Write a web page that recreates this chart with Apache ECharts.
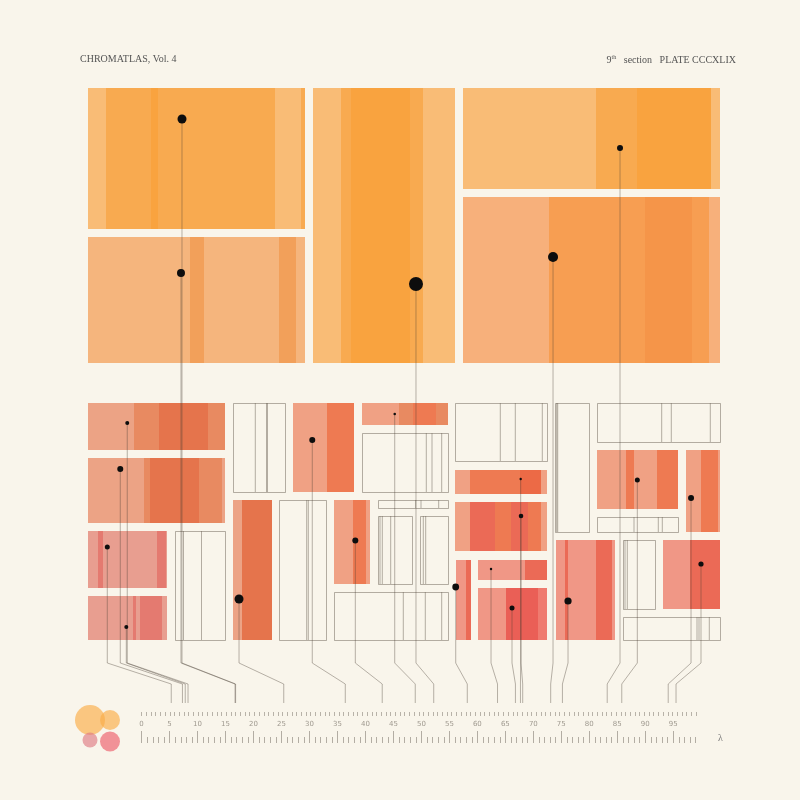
<!DOCTYPE html>
<html><head><meta charset="utf-8">
<script src="https://cdn.jsdelivr.net/npm/echarts@6/dist/echarts.min.js"></script>
<style>html,body{margin:0;padding:0;background:#f9f5eb}#c{width:800px;height:800px}</style>
</head><body><div id="c"></div><script>
// ---------- DATA ----------
// plate cells (upper group): [id, x0, y0, x1, y1, tone]
const upperCells = [
  ['T1', 88, 88, 305, 229, 'o1'],
  ['T2', 88, 237, 305, 363, 'o4'],
  ['T3', 313, 88, 455, 363, 'o1'],
  ['T4', 463, 88, 720, 189, 'o1'],
  ['T5', 463, 197, 720, 363, 'o6']
];
// lower group: filled cells
const lowerFilled = [
  ['B1', 88, 403, 225, 450, 'r1'],
  ['B2', 88, 458, 225, 523, 'r1'],
  ['B3', 88, 531, 167, 588, 'r4'],
  ['B4', 88, 596, 167, 640, 'r4'],
  ['B7', 233, 500, 272, 640, 'r1'],
  ['B9', 293, 403, 354, 492, 'r6'],
  ['B10', 362, 403, 448, 425, 'r6'],
  ['B15', 334, 500, 370, 584, 'r6'],
  ['B18', 455, 470, 547, 494, 'r6'],
  ['B19', 455, 502, 547, 551, 'r6'],
  ['B20', 456, 560, 471, 640, 'r8'],
  ['B21', 478, 560, 547, 580, 'r8'],
  ['B22', 478, 588, 547, 640, 'r8'],
  ['B25', 597, 450, 678, 509, 'r6'],
  ['B27', 686, 450, 720, 532, 'r6'],
  ['B28', 556, 540, 615, 640, 'r8'],
  ['B30', 663, 540, 720, 609, 'r8']
];
// lower group: empty (outlined) cells
const lowerEmpty = [
  ['B5', 175, 531, 225, 640, ''],
  ['B6', 233, 403, 285, 492, ''],
  ['B8', 279, 500, 326, 640, ''],
  ['B11', 362, 433, 448, 492, ''],
  ['B12', 378, 500, 448, 508, ''],
  ['B13', 378, 516, 412, 584, ''],
  ['B14', 420, 516, 448, 584, ''],
  ['B16', 334, 592, 448, 640, ''],
  ['B17', 455, 403, 547, 461, ''],
  ['B23', 555, 403, 589, 532, ''],
  ['B24', 597, 403, 720, 442, ''],
  ['B26', 597, 517, 678, 532, ''],
  ['B29', 623, 540, 655, 609, ''],
  ['B31', 623, 617, 720, 640, '']
];
// colour bands inside filled cells: [cellId, x0, x1, tone]
const bands = [
  ['T1', 106, 275, 'o2'], ['T1', 151, 158, 'o3'], ['T1', 301, 305, 'o2'],
  ['T2', 190, 204, 'o5'], ['T2', 279, 296, 'o5'],
  ['T3', 341, 423, 'o2'], ['T3', 351, 410, 'o3'],
  ['T4', 596, 711, 'o2'], ['T4', 637, 711, 'o3'],
  ['T5', 549, 709, 'o7'], ['T5', 645, 692, 'o8'],
  ['B1', 134, 225, 'r2'], ['B1', 159, 208, 'r3'],
  ['B2', 144, 222, 'r2'], ['B2', 150, 199, 'r3'],
  ['B3', 98, 103, 'r5'], ['B3', 157, 166, 'r5'],
  ['B4', 133, 136, 'r5'], ['B4', 140, 162, 'r5'],
  ['B7', 242, 272, 'r3'],
  ['B9', 327, 354, 'r7'],
  ['B10', 399, 448, 'r2'], ['B10', 413, 436, 'r7'],
  ['B15', 353, 366, 'r7'],
  ['B18', 470, 541, 'r7'], ['B18', 520, 541, 'r12'],
  ['B19', 470, 541, 'r7'], ['B19', 470, 495, 'r9'], ['B19', 511, 528, 'r9'],
  ['B20', 466, 471, 'r9'],
  ['B21', 525, 547, 'r9'],
  ['B22', 506, 547, 'r11'], ['B22', 506, 538, 'r10'],
  ['B25', 626, 634, 'r7'], ['B25', 657, 678, 'r7'],
  ['B27', 701, 718, 'r7'],
  ['B28', 565, 568, 'r9'], ['B28', 596, 612, 'r9'],
  ['B30', 690, 720, 'r9']
];
// ruled lines inside empty cells: [cellId, x]
const rules = [
  ['B5', 183.5], ['B5', 201.5],
  ['B6', 255.3], ['B6', 266.5], ['B6', 267.5],
  ['B8', 306.7], ['B8', 308.3],
  ['B11', 426.3], ['B11', 432], ['B11', 441.7],
  ['B12', 415.7], ['B12', 421], ['B12', 438.7],
  ['B13', 380], ['B13', 382.3], ['B13', 390.7],
  ['B14', 423.3], ['B14', 425.7],
  ['B16', 403.3], ['B16', 425.3], ['B16', 441.7],
  ['B17', 500.3], ['B17', 515.3], ['B17', 542.3],
  ['B23', 556.7], ['B23', 557.7],
  ['B24', 661.7], ['B24', 671.3], ['B24', 710.3],
  ['B26', 634], ['B26', 658.3], ['B26', 662.3],
  ['B29', 625], ['B29', 627.3],
  ['B31', 697], ['B31', 699], ['B31', 709.3]
];
// samples: position on λ scale, vertical position, weight, target λ
const sampleLambda = [7.22, 7.04, 49.03, 85.49, 73.52, -2.56, -3.81, -6.13, -2.73, 17.41, 30.50, 45.23, 38.19, 56.13, 67.74, 67.80, 62.44, 66.19, 88.58, 98.18, 99.96, 76.20];
const sampleY      = [119, 273, 284, 148, 257, 423, 469, 547, 627, 599, 440, 414, 540.5, 587, 479, 516, 569, 608, 480, 498, 564, 601];
const sampleWeight = [4.5, 4, 7, 3, 5, 2, 3, 2.5, 2, 4.5, 3, 1.3, 3, 3.4, 1.2, 2.3, 1.2, 2.5, 2.5, 3, 2.6, 3.6];
const sampleTarget = [16.8, 16.7, 52.2, 83.2, 73.1, 8.3, 7.3, 5.3, 7.8, 25.4, 36.4, 48.9, 43.0, 58.2, 67.7, 68.1, 63.6, 66.8, 85.8, 94.1, 95.5, 75.2];
// scale
const scaleLabels = [0,5,10,15,20,25,30,35,40,45,50,55,60,65,70,75,80,85,90,95];
const scaleMinor = Array.from({length: 100}, (_, i) => i);
const fineTicks = Array.from({length: 119}, (_, i) => i);
// swatches: [x, y, weight, tone]
const swatches = [[90, 720, 15, 'o1'], [110, 720, 10, 'o1'], [90, 740, 7.5, 'p1'], [110, 741.5, 10, 'p2']];

// ---------- STYLE ----------
const palette = {
  o1: '#f9bc76', o2: '#f8aa50', o3: '#f9a33f', o4: '#f5b57d', o5: '#f2a05a',
  o6: '#f7b07b', o7: '#f79e52', o8: '#f59549',
  r1: '#eca385', r2: '#e88a61', r3: '#e5744c', r4: '#e89e90', r5: '#e47a70',
  r6: '#f0a184', r7: '#ee7a52', r8: '#f09786', r9: '#eb6a56', r10: '#ea5f56',
  r11: '#ef7b6f', r12: '#ec6a46',
  p1: '#e2838c', p2: '#ef6f78'
};
const swatchColor = { o1: 'rgba(251,172,72,0.82)', p1: 'rgba(222,120,130,0.8)', p2: 'rgba(238,100,112,0.85)' };
const ruleColor = 'rgba(110,100,88,0.5)';
const leaderColor = 'rgba(70,60,50,0.38)';
const BEND_TOP = 663, BEND_BOTTOM = 684, LINE_END = 703;

const allCells = upperCells.concat(lowerFilled, lowerEmpty);

function rectOf(api, x0, y0, x1, y1) {
  const a = api.coord([x0, y0]), b = api.coord([x1, y1]);
  return { x: a[0], y: a[1], width: b[0] - a[0], height: b[1] - a[1] };
}

function renderCell(params, api) {
  const c = allCells[params.dataIndex];
  const children = [];
  if (c[5]) {
    children.push({ type: 'rect', shape: rectOf(api, c[1], c[2], c[3], c[4]), style: { fill: palette[c[5]] } });
    bands.filter(b => b[0] === c[0]).forEach(b => {
      children.push({ type: 'rect', shape: rectOf(api, b[1], c[2], b[2], c[4]), style: { fill: palette[b[3]] } });
    });
  } else {
    const r = rectOf(api, c[1], c[2], c[3], c[4]);
    r.x += 0.5; r.y += 0.5;
    children.push({ type: 'rect', shape: r, style: { fill: 'rgba(0,0,0,0)', stroke: ruleColor, lineWidth: 1 } });
    rules.filter(l => l[0] === c[0]).forEach(l => {
      const a = api.coord([l[1], c[2]]), b = api.coord([l[1], c[4]]);
      children.push({ type: 'line', shape: { x1: a[0], y1: a[1], x2: b[0], y2: b[1] }, style: { stroke: ruleColor, lineWidth: 1 } });
    });
  }
  return { type: 'group', children };
}

function renderLeader(params, api) {
  const x = api.value(0), y = api.value(1), t = api.value(2);
  const pts = [api.coord([x, y]), api.coord([x, BEND_TOP]), api.coord([t, BEND_BOTTOM]), api.coord([t, LINE_END])];
  return { type: 'polyline', shape: { points: pts }, style: { stroke: leaderColor, lineWidth: 1, fill: null } };
}

const serif = "'Liberation Serif', 'DejaVu Serif', serif";
const chart = echarts.init(document.getElementById('c'), null, { renderer: 'canvas' });
const hiddenX = (min, max, gridIndex) => ({ type: 'value', gridIndex, min, max, show: false });
const hiddenY = (max, gridIndex) => ({ type: 'value', gridIndex, min: 0, max, inverse: true, show: false });

chart.setOption({
  backgroundColor: '#f9f5eb',
  animation: false,
  title: [
    { text: 'CHROMATLAS, Vol. 4', left: 80, top: 54, padding: 0, textStyle: { fontFamily: serif, fontSize: 10, fontWeight: 'normal', color: '#555' } },
    { text: '9{s|th}   section   PLATE CCCXLIX', right: 64, top: 54, padding: 0,
      textStyle: { fontFamily: serif, fontSize: 10, fontWeight: 'normal', color: '#555',
        rich: { s: { fontFamily: serif, fontSize: 6, color: '#555', verticalAlign: 'top', padding: [0, 0, 6, 0] } } } },
    { text: 'λ', left: 718, top: 733, padding: 0, textStyle: { fontFamily: serif, fontSize: 10, fontWeight: 'normal', color: '#777' } }
  ],
  grid: [
    { left: 0, top: 0, width: 800, height: 800, outerBoundsMode: 'none' },
    { left: 0, top: 0, width: 800, height: 743, outerBoundsMode: 'none' },
    { left: 0, top: 0, width: 800, height: 743, outerBoundsMode: 'none' },
    { left: 141.6, top: 0, width: 554.4, height: 716, outerBoundsMode: 'none' }
  ],
  xAxis: [
    hiddenX(0, 800, 0),
    { type: 'value', gridIndex: 1, min: -25.30, max: 117.65, position: 'bottom',
      axisLine: { show: false, onZero: false }, splitLine: { show: false },
      axisTick: { show: true, inside: true, length: 12, customValues: scaleLabels, lineStyle: { color: '#b3ada3', width: 1 } },
      axisLabel: { show: true, inside: true, margin: 15, customValues: scaleLabels, fontSize: 7, color: '#a09a90', fontFamily: "'DejaVu Sans', sans-serif" } },
    { type: 'value', gridIndex: 2, min: -25.30, max: 117.65, position: 'bottom',
      axisLine: { show: false, onZero: false }, splitLine: { show: false }, axisLabel: { show: false },
      axisTick: { show: true, inside: true, length: 6, customValues: scaleMinor, lineStyle: { color: '#b3ada3', width: 1 } } },
    { type: 'value', gridIndex: 3, min: 0, max: 118, position: 'bottom',
      axisLine: { show: false, onZero: false }, splitLine: { show: false }, axisLabel: { show: false },
      axisTick: { show: true, inside: true, length: 4, customValues: fineTicks, lineStyle: { color: '#b8b2a8', width: 1 } } }
  ],
  yAxis: [hiddenY(800, 0), hiddenY(743, 1), hiddenY(743, 2), hiddenY(716, 3)],
  series: [
    { type: 'custom', name: 'cells', xAxisIndex: 0, yAxisIndex: 0, z: 2,
      data: allCells.map(c => [c[1], c[2], c[3], c[4]]), encode: { x: [0, 2], y: [1, 3] },
      renderItem: renderCell, silent: true },
    { type: 'custom', name: 'leaders', xAxisIndex: 1, yAxisIndex: 1, z: 3,
      data: sampleLambda.map((v, i) => [v, sampleY[i], sampleTarget[i]]), encode: { x: 0, y: 1 },
      renderItem: renderLeader, silent: true },
    { type: 'scatter', name: 'samples', xAxisIndex: 1, yAxisIndex: 1, z: 4,
      data: sampleLambda.map((v, i) => [v, sampleY[i], sampleWeight[i]]),
      symbolSize: v => v[2] * 2, itemStyle: { color: '#0d0d0d', opacity: 1 }, silent: true },
    { type: 'scatter', name: 'swatches', xAxisIndex: 0, yAxisIndex: 0, z: 4,
      data: swatches.map(s => ({ value: [s[0], s[1], s[2]], itemStyle: { color: swatchColor[s[3]] } })),
      symbolSize: v => v[2] * 2, silent: true }
  ]
});
</script></body></html>
